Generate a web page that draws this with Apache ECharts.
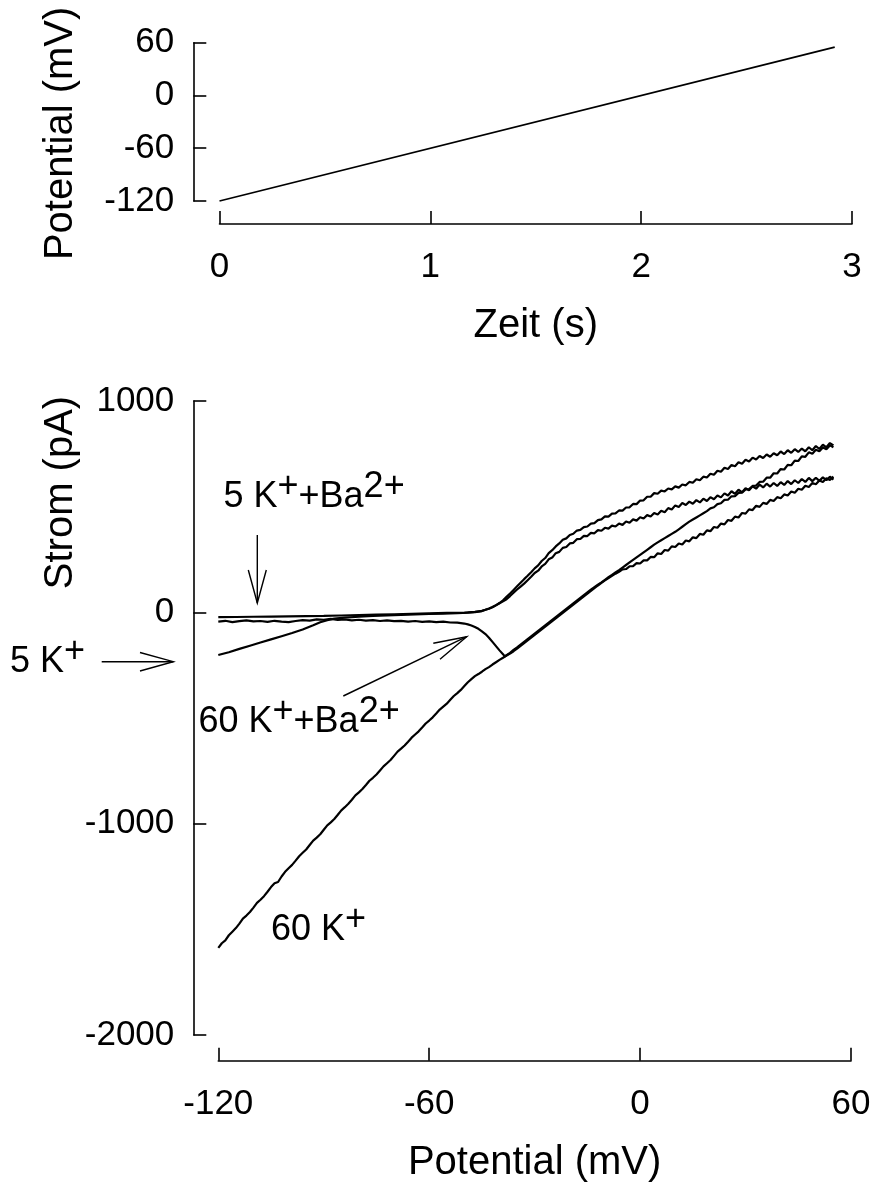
<!DOCTYPE html>
<html>
<head>
<meta charset="utf-8">
<script src="https://cdn.jsdelivr.net/npm/echarts@6/dist/echarts.min.js"></script>
<style>
html,body{margin:0;padding:0;background:#fff;}
#chart{width:875px;height:1184px;}
</style>
</head>
<body>
<div id="chart"></div>
<script>
// ---------------- data ----------------
// top panel: voltage ramp (time in s, potential in mV)
const rampTime = [0, 2.918];
const rampPotential = [-120, 55];
const topXTicks = { min: 0, max: 3, interval: 1 };
const topYTicks = { min: -120, max: 60, interval: 60 };

// bottom panel: I-V traces [potential mV, current pA]
const bottomXTicks = { min: -120, max: 60, interval: 60 };
const bottomYTicks = { min: -2000, max: 1000, interval: 1000 };

const trace5K = [
  [-120,-202],[-117,-189],[-114,-173],[-111,-158],[-108,-143],[-105,-128],[-102,-113],[-99,-98],
  [-96,-81],[-93,-61],[-91,-47],[-89,-37],[-87,-30],[-84,-25],[-80,-21],[-76,-17],[-72,-15],
  [-68,-12],[-64,-10],[-60,-8],[-56,-6],[-52,-4],[-49,-2],[-47,1],[-45,6],[-44,12],[-43,17],
  [-42,24],[-41,33],[-40,44],[-39,57],[-38,73],[-37,89],[-36,106],[-35,123],[-34,140],[-33,157],
  [-32,173],[-31,190],[-30,208],[-29,222],[-28,243],[-27,257],[-26,280],[-25,294],[-24,312],
  [-23,326],[-22,343],[-21,350],[-20,366],[-19,372],[-18,387],[-17,390],[-16,403],[-15,406],
  [-14,420],[-13,422],[-12,436],[-11,440],[-10,454],[-9,453],[-8,467],[-7,468],[-6,482],[-5,481],
  [-4,496],[-3,497],[-2,513],[-1,512],[0,529],[1,530],[2,547],[3,547],[4,564],[5,561],[6,576],
  [7,572],[8,586],[9,582],[10,596],[11,590],[12,605],[13,601],[14,617],[15,613],[16,630],[17,625],
  [18,642],[19,638],[20,656],[21,651],[22,670],[23,665],[24,684],[25,678],[26,697],[27,691],
  [28,710],[29,703],[30,722],[31,714],[32,732],[33,723],[34,740],[35,730],[36,747],[37,736],
  [38,753],[39,743],[40,761],[41,749],[42,767],[43,755],[44,772],[45,759],[46,775],[47,762],
  [48,781],[49,767],[50,787],[51,773],[52,793],[53,781],[54,801],[55,790]
];

const trace5KBa = [
  [-120,-23],[-115,-22],[-110,-21],[-105,-20],[-100,-19],[-95,-18],[-90,-17],[-85,-15],[-80,-13],
  [-75,-11],[-70,-9],[-65,-7],[-60,-5],[-55,-3],[-50,-1],[-47,2],[-45,7],[-44,12],[-43,18],
  [-42,25],[-41,34],[-40,43],[-39,52],[-38,62],[-37,77],[-36,93],[-35,108],[-34,122],[-33,136],
  [-32,152],[-31,168],[-30,186],[-29,197],[-28,217],[-27,229],[-26,251],[-25,259],[-24,280],
  [-23,286],[-22,305],[-21,309],[-20,326],[-19,329],[-18,346],[-17,347],[-16,362],[-15,361],
  [-14,376],[-13,374],[-12,389],[-11,386],[-10,400],[-9,396],[-8,410],[-7,406],[-6,420],[-5,414],
  [-4,430],[-3,424],[-2,440],[-1,434],[0,450],[1,444],[2,460],[3,453],[4,470],[5,463],[6,481],
  [7,474],[8,493],[9,487],[10,506],[11,498],[12,517],[13,508],[14,524],[15,514],[16,531],[17,520],
  [18,538],[19,527],[20,545],[21,535],[22,553],[23,544],[24,563],[25,553],[26,573],[27,561],
  [28,580],[29,568],[30,587],[31,577],[32,596],[33,585],[34,605],[35,591],[36,609],[37,595],
  [38,612],[39,598],[40,616],[41,603],[42,621],[43,607],[44,625],[45,612],[46,631],[47,617],
  [48,636],[49,621],[50,637],[51,622],[52,639],[53,625],[54,642],[55,628]
];

const trace60K = [
  [-120,-1588],[-119,-1566],[-118,-1552],[-117,-1528],[-116,-1511],[-115,-1494],[-114,-1473],
  [-113,-1449],[-112,-1435],[-111,-1418],[-110,-1397],[-109,-1375],[-108,-1360],[-107,-1343],
  [-106,-1322],[-105,-1300],[-104,-1282],[-103,-1276],[-102,-1250],[-101,-1228],[-100,-1211],
  [-99,-1195],[-98,-1175],[-97,-1154],[-96,-1138],[-95,-1122],[-94,-1101],[-93,-1080],[-92,-1066],
  [-91,-1050],[-90,-1029],[-89,-1008],[-88,-994],[-87,-978],[-86,-958],[-85,-937],[-84,-922],
  [-83,-906],[-82,-887],[-81,-866],[-80,-852],[-79,-836],[-78,-817],[-77,-797],[-76,-783],
  [-75,-767],[-74,-748],[-73,-729],[-72,-714],[-71,-699],[-70,-679],[-69,-659],[-68,-645],
  [-67,-630],[-66,-612],[-65,-593],[-64,-578],[-63,-563],[-62,-545],[-61,-526],[-60,-512],
  [-59,-497],[-58,-479],[-57,-460],[-56,-446],[-55,-432],[-54,-414],[-53,-396],[-52,-382],
  [-51,-367],[-50,-349],[-49,-331],[-48,-316],[-47,-302],[-46,-292],[-45,-281],[-44,-269],
  [-43,-259],[-42,-247],[-41,-236],[-40,-225],[-39,-215],[-38.5,-209],
  [-38,-203],[-37,-192],[-36,-178],[-35,-166],[-34,-153],[-33,-140],[-32,-127],[-31,-114],
  [-30,-101],[-29,-88],[-28,-75],[-27,-62],[-26,-49],[-25,-36],[-24,-23],[-23,-10],[-22,3],
  [-21,16],[-20,29],[-19,42],[-18,55],[-17,68],[-16,81],[-15,94],[-14,107],[-13,119],[-12,131],
  [-11,142],[-10,154],[-9,166],[-8,177],[-7,189],[-6,200],[-5,212],[-4,224],[-3,236],[-2,248],
  [-1,260],[0,272],[1,284],[2,296],[3,308],[4,320],[5,331],[6,341],[7,351],[8,361],[9,371],
  [10,381],[11,393],[12,405],[13,417],[14,429],[15,439],[16,449],[17,459],[18,469],[19,479],
  [20,492],[21,497],[22,512],[23,516],[24,532],[25,533],[26,549],[27,550],[28,565],[29,566],
  [30,582],[31,583],[32,598],[33,600],[34,617],[35,618],[36,637],[37,637],[38,658],[39,657],
  [40,678],[41,676],[42,698],[43,696],[44,718],[45,716],[46,738],[47,736],[48,757],[49,750],
  [50,769],[51,762],[52,780],[53,772],[54,790],[55,781]
];

const trace60KBa = [
  [-120,-44],[-118,-40],[-116,-46],[-114,-42],[-112,-38],[-110,-43],[-108,-41],[-106,-45],
  [-104,-40],[-102,-44],[-100,-46],[-98,-41],[-96,-37],[-94,-39],[-92,-33],[-90,-35],[-88,-31],
  [-86,-36],[-84,-34],[-82,-38],[-80,-35],[-78,-39],[-76,-37],[-74,-41],[-72,-38],[-70,-42],
  [-68,-40],[-66,-44],[-64,-41],[-62,-45],[-60,-43],[-58,-46],[-56,-44],[-54,-48],[-52,-49],
  [-50,-53],[-49,-57],[-48,-62],[-47,-69],[-46,-78],[-45,-90],[-44,-103],[-43,-120],[-42,-140],
  [-41,-160],[-40,-180],[-39,-198],[-38.5,-209],
  [-38,-205],[-37,-195],[-36,-184],[-35,-172],[-34,-159],[-33,-146],[-32,-133],[-31,-120],
  [-30,-107],[-29,-94],[-28,-81],[-27,-68],[-26,-55],[-25,-42],[-24,-29],[-23,-16],[-22,-3],
  [-21,10],[-20,23],[-19,36],[-18,49],[-17,62],[-16,75],[-15,88],[-14,101],[-13,114],[-12,127],
  [-11,139],[-10,151],[-9,162],[-8,173],[-7,183],[-6,192],[-5,203],[-4,205],[-3,218],[-2,219],
  [-1,233],[0,231],[1,246],[2,246],[3,262],[4,261],[5,279],[6,276],[7,295],[8,292],[9,312],
  [10,309],[11,326],[12,321],[13,340],[14,336],[15,355],[16,351],[17,371],[18,367],[19,388],
  [20,384],[21,404],[22,400],[23,420],[24,416],[25,437],[26,433],[27,453],[28,449],[29,470],
  [30,467],[31,487],[32,484],[33,504],[34,499],[35,518],[36,513],[37,532],[38,527],[39,545],
  [40,540],[41,558],[42,553],[43,572],[44,566],[45,585],[46,580],[47,599],[48,593],[49,612],
  [50,606],[51,624],[52,617],[53,634],[54,626],[55,642]
];

// ---------------- chart ----------------
const FONT = '"Liberation Sans", Arial, Helvetica, sans-serif';
const TICK_FS = 35;
const TITLE_FS = 40;
const LABEL_FS = 36;

function axisCommon(extra) {
  return Object.assign({
    type: 'value',
    axisLine: { show: true, onZero: false, lineStyle: { color: '#000', width: 1.6 } },
    axisTick: { show: true, inside: true, length: 13, lineStyle: { color: '#000', width: 1.6 } },
    splitLine: { show: false },
    nameLocation: 'middle',
    nameMoveOverlap: false,
    nameTextStyle: { color: '#000', fontSize: TITLE_FS, fontFamily: FONT }
  }, extra);
}
function tickLabel(margin) {
  return { color: '#000', fontSize: TICK_FS, fontFamily: FONT, margin: margin,
           formatter: function (v) { return String(v); } };
}

const measureCtx = document.createElement('canvas').getContext('2d');
function richLabel(x, baseline, parts, fs) {
  measureCtx.font = fs + 'px ' + FONT;
  const els = [];
  let cx = x;
  parts.forEach(function (p) {
    const raise = p[1] ? 10 : 0;
    els.push({
      type: 'text', silent: true,
      x: cx, y: baseline - raise - 0.35 * fs,
      style: { text: p[0], fontSize: fs, fontFamily: FONT, fill: '#000', align: 'left', verticalAlign: 'middle' }
    });
    cx += measureCtx.measureText(p[0]).width;
  });
  return els;
}
function arrow(x1, y1, x2, y2, w1, w2) {
  return [
    { type: 'line', silent: true, shape: { x1: x1, y1: y1, x2: x2, y2: y2 }, style: { stroke: '#000', lineWidth: 1.4 } },
    { type: 'polyline', silent: true, shape: { points: [w1, [x2, y2], w2] }, style: { stroke: '#000', lineWidth: 1.4, fill: null } }
  ];
}

const graphics = [].concat(
  richLabel(223.5, 510, [['5 K', 0], ['+', 1], ['+Ba', 0], ['2+', 1]], LABEL_FS),
  arrow(257.3, 535, 257.3, 603, [248.3, 570], [266.3, 570]),
  richLabel(10, 675, [['5 K', 0], ['+', 1]], LABEL_FS),
  arrow(101.7, 661.7, 173.3, 661.7, [140, 652.5], [140, 671]),
  richLabel(198.5, 735, [['60 K', 0], ['+', 1], ['+Ba', 0], ['2+', 1]], LABEL_FS),
  arrow(343.3, 696, 466.7, 636.7, [433.3, 643.3], [440, 659.3]),
  richLabel(271, 943, [['60 K', 0], ['+', 1]], LABEL_FS)
);

function traceSeries(name, data) {
  return {
    name: name, type: 'line', xAxisIndex: 1, yAxisIndex: 1, data: data,
    showSymbol: false, symbol: 'none', silent: true, clip: false,
    lineStyle: { color: '#000', width: 2.2 }
  };
}

const chart = echarts.init(document.getElementById('chart'), null, { renderer: 'canvas' });
chart.setOption({
  backgroundColor: '#fff',
  animation: false,
  textStyle: { fontFamily: FONT, color: '#000' },
  grid: [
    { left: 219.5, right: 23, top: 42.7, height: 158.3, containLabel: false, outerBoundsMode: 'none' },
    { left: 218.3, right: 24, top: 401, height: 634, containLabel: false, outerBoundsMode: 'none' }
  ],
  xAxis: [
    axisCommon({
      gridIndex: 0, min: topXTicks.min, max: topXTicks.max, interval: topXTicks.interval, offset: 23,
      axisLabel: tickLabel(26),
      name: 'Zeit (s)', nameGap: 82
    }),
    axisCommon({
      gridIndex: 1, min: bottomXTicks.min, max: bottomXTicks.max, interval: bottomXTicks.interval, offset: 25.7,
      axisLabel: tickLabel(26),
      name: 'Potential (mV)', nameGap: 82
    })
  ],
  yAxis: [
    axisCommon({
      gridIndex: 0, min: topYTicks.min, max: topYTicks.max, interval: topYTicks.interval, offset: 26.2,
      axisLabel: tickLabel(19),
      name: 'Potential (mV)', nameGap: 112,
      nameTextStyle: { color: '#000', fontSize: TITLE_FS, fontFamily: FONT, padding: [0, 23, 0, 0] }
    }),
    axisCommon({
      gridIndex: 1, min: bottomYTicks.min, max: bottomYTicks.max, interval: bottomYTicks.interval, offset: 25,
      axisLabel: tickLabel(19),
      name: 'Strom (pA)', nameGap: 112,
      nameTextStyle: { color: '#000', fontSize: TITLE_FS, fontFamily: FONT, padding: [0, 0, 0, 451] }
    })
  ],
  series: [
    {
      name: 'Rampe', type: 'line', xAxisIndex: 0, yAxisIndex: 0,
      data: rampTime.map(function (t, i) { return [t, rampPotential[i]]; }),
      showSymbol: false, symbol: 'none', silent: true,
      lineStyle: { color: '#000', width: 1.8 }
    },
    traceSeries('5 K+', trace5K),
    traceSeries('5 K+ + Ba2+', trace5KBa),
    traceSeries('60 K+', trace60K),
    traceSeries('60 K+ + Ba2+', trace60KBa)
  ],
  graphic: graphics
});
</script>
</body>
</html>
